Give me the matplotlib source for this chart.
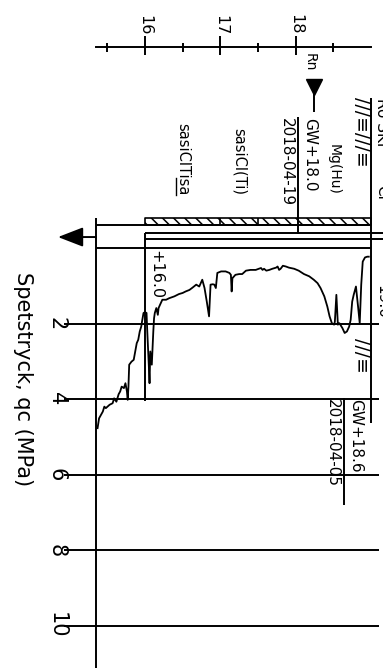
import numpy as np
import matplotlib.pyplot as plt

plt.rcParams['font.family'] = 'DejaVu Sans'
plt.rcParams['hatch.linewidth'] = 1.1

# CPT sounding: level (m) and cone resistance qc (MPa), bottom -> ground
level = [15.37, 15.39, 15.44, 15.46, 15.48, 15.53, 15.57, 15.59, 15.62, 15.65,
         15.67, 15.69, 15.72, 15.74, 15.76, 15.77, 15.78, 15.79, 15.82, 15.85,
         15.87, 15.89, 15.91, 15.93, 15.95, 15.96, 15.98, 16.00, 16.02, 16.03,
         16.05, 16.06, 16.07, 16.09, 16.11, 16.12, 16.13, 16.15, 16.17, 16.18,
         16.20, 16.23, 16.28, 16.32, 16.39, 16.45, 16.50, 16.54, 16.59, 16.63,
         16.68, 16.72, 16.76, 16.79, 16.82, 16.85, 16.87, 16.90, 16.92, 16.94,
         16.96, 17.01, 17.07, 17.12, 17.14, 17.15, 17.16, 17.20, 17.25, 17.29,
         17.34, 17.40, 17.47, 17.51, 17.54, 17.56, 17.58, 17.61, 17.65, 17.69,
         17.74, 17.76, 17.78, 17.80, 17.83, 17.87, 17.91, 17.98, 18.04, 18.11,
         18.18, 18.24, 18.29, 18.33, 18.38, 18.42, 18.45, 18.48, 18.51, 18.52,
         18.54, 18.56, 18.58, 18.62, 18.65, 18.68, 18.71, 18.73, 18.75, 18.77,
         18.80, 18.83, 18.85, 18.87, 18.89, 18.92, 18.95, 18.97]
qc = [4.77, 4.51, 4.33, 4.20, 4.24, 4.15, 4.11, 3.98, 4.07, 3.87,
      3.80, 3.67, 3.71, 3.58, 3.80, 4.02, 3.67, 3.09, 3.01, 2.96,
      2.74, 2.52, 2.43, 2.21, 2.08, 1.95, 1.72, 1.70, 1.72, 2.21,
      3.09, 3.58, 2.74, 3.09, 2.21, 1.86, 1.72, 1.59, 1.77, 1.59,
      1.50, 1.37, 1.37, 1.33, 1.28, 1.22, 1.19, 1.15, 1.11, 1.05,
      0.97, 1.02, 0.84, 1.06, 1.42, 1.81, 0.97, 0.96, 0.97, 1.06,
      0.66, 0.62, 0.62, 0.66, 0.71, 1.15, 0.80, 0.71, 0.69, 0.69,
      0.60, 0.58, 0.58, 0.55, 0.53, 0.58, 0.55, 0.60, 0.58, 0.55,
      0.52, 0.49, 0.58, 0.55, 0.47, 0.49, 0.52, 0.55, 0.60, 0.69,
      0.75, 0.84, 0.93, 1.06, 1.28, 1.55, 1.81, 1.99, 2.03, 1.95,
      1.24, 2.03, 1.99, 2.12, 2.25, 2.21, 2.08, 1.90, 1.42, 1.24,
      1.02, 1.59, 1.99, 0.97, 0.36, 0.25, 0.23, 0.23]

level_major = [16, 17, 18]
level_minor = [15.5, 16.5, 17.5, 18.5]
qc_ticks = [2, 4, 6, 8, 10]

layer_bot = [16.0, 17.0, 17.5, 18.0]
layer_top = [17.0, 17.5, 18.0, 19.0]
layer_soil = ['sasiClTisa', 'sasiCl(Ti)', '', 'Mg(Hu)']

gw_level = [18.03, 18.64]
gw_date = ['2018-04-19', '2018-04-05']

stop_level = 16.0
ground = 19.0
left_edge = 15.35

# layout (level / qc units)
head_y = -5.32
gw_span = [(-3.47, -0.38), (3.97, 6.80)]
k = 'black'
lw = 1.4

fig = plt.figure(figsize=(3.83, 6.68), dpi=100)
ax = fig.add_axes([0, 0, 1, 1])
ax.set_xlim(14.075, 19.159)
ax.set_ylim(11.12, -6.566)
ax.axis('off')

# level scale on top
ax.plot([left_edge, ground], [head_y, head_y], color=k, lw=lw)
ax.vlines(level_major, head_y - 0.29, head_y + 0.21, color=k, lw=lw)
ax.vlines(level_minor, head_y - 0.11, head_y + 0.13, color=k, lw=lw)
for v in level_major:
    ax.text(v, head_y - 0.32, str(v), rotation=-90, ha='center', va='bottom',
            fontsize=11.5)

# qc grid and axis
ax.hlines(qc_ticks, 14.93, 19.1, color=k, lw=lw)
ax.hlines(0, left_edge, ground, color=k, lw=lw)
for q in qc_ticks:
    ax.text(14.83, q, str(q), rotation=-90, ha='center', va='center', fontsize=15)
ax.text(14.38, 3.46, 'Spetstryck, qc (MPa)', rotation=-90, ha='center',
        va='center', fontsize=15)

# frame
ax.vlines(left_edge, -0.80, 11.12, color=k, lw=lw)
ax.vlines(ground, -3.97, 4.63, color=k, lw=lw)

# soil column strip
ax.fill_between([layer_bot[0], layer_top[-1]], -0.79, -0.60, facecolor='none',
                edgecolor=k, hatch='\\\\\\', lw=1.2)
ax.hlines(-0.60, left_edge, ground, color=k, lw=lw)
ax.vlines(layer_bot[1:3], -0.79, -0.60, color=k, lw=1.2)

# stop of sounding
ax.hlines([-0.39, -0.23], stop_level, 19.2, color=k, lw=lw)
ax.vlines(stop_level, -0.39, 4.06, color=k, lw=lw)
ax.text(stop_level + 0.04, 0.05, '+%.1f' % stop_level, rotation=-90, ha='left',
        va='top', fontsize=11.5)

ax.annotate('', xy=(14.845, -0.29), xytext=(left_edge, -0.29),
            arrowprops=dict(arrowstyle='-|>,head_length=1.55,head_width=0.6',
                            color=k, lw=lw, shrinkA=0, shrinkB=0))

# cone resistance
ax.plot(level, qc, color=k, lw=1.3)

# soil names
soil_texts = []
for lo, hi, name in zip(layer_bot, layer_top, layer_soil):
    if name:
        t = ax.text((lo + hi) / 2, -1.40, name, rotation=-90, ha='center',
                    va='bottom', fontsize=10.5 if name.startswith('sa') else 10)
        soil_texts.append(t)

# ground water
for lev, date, (y0, y1) in zip(gw_level, gw_date, gw_span):
    ax.vlines(lev, y0, y1, color=k, lw=lw)
    ax.text(lev + 0.16, y0 + 0.04, 'GW+%.1f' % lev, rotation=-90, ha='center',
            va='top', fontsize=11)
    ax.text(lev - 0.15, y0 + 0.04, date, rotation=-90, ha='center', va='top',
            fontsize=11)

ax.plot(18.24, -4.26, marker='v', ms=12, color=k)
ax.vlines(18.24, -4.1, -3.60, color=k, lw=lw)
ax.text(18.19, -5.16, 'Rn', rotation=-90, ha='center', va='top', fontsize=10)

# symbols and texts along the ground side
ax.text(18.87, -4.0, '///≡///≡', rotation=-90, ha='center', va='top', fontsize=13.5)
ax.text(18.87, 2.38, '///≡', rotation=-90, ha='center', va='top', fontsize=13.5)
ax.text(19.04, -3.97, 'Ro SKr', rotation=-90, ha='left', va='top', fontsize=11)
ax.text(19.04, -1.67, 'Cl', rotation=-90, ha='left', va='top', fontsize=11)
ax.text(19.04, 0.98, '19.0', rotation=-90, ha='left', va='top', fontsize=11)

# underline the last "sa" of the first soil name
fig.canvas.draw()
r = fig.canvas.get_renderer()
t = soil_texts[0]
bb = t.get_window_extent(r)
prop = t.get_fontproperties()
w_sa = r.get_text_width_height_descent('sa', prop, ismath=False)[0]
d = r.get_text_width_height_descent('lp', prop, ismath=False)[2]
inv = ax.transData.inverted()
p0, p1 = inv.transform([(bb.x0 + 0.4 * d, bb.y0), (bb.x0 + 0.4 * d, bb.y0 + w_sa)])
ax.plot([p0[0], p1[0]], [p0[1], p1[1]], color=k, lw=1.0)

fig.savefig('out.png', dpi=100)
